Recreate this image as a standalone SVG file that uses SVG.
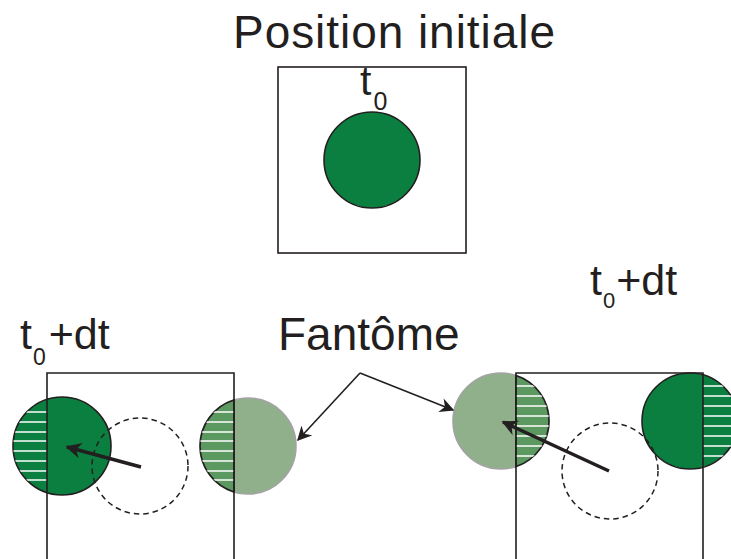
<svg xmlns="http://www.w3.org/2000/svg" width="731" height="559" viewBox="0 0 731 559">
<style>
  .lbl { font-family: "Liberation Sans", Arial, sans-serif; fill: #231f20; }
  .box { fill: none; stroke: #231f20; stroke-width: 1.6; }
  .solid { fill: #0b7f3f; stroke: #231f20; stroke-width: 1.6; }
  .ghost { fill: #8fb08a; stroke: #a3a3a3; stroke-width: 1.6; }
  .ghosthatch { fill: #5b9960; stroke: #231f20; stroke-width: 1.6; }
  .hatch { stroke: #ffffff; stroke-width: 1.6; }
  .dashed { fill: none; stroke: #231f20; stroke-width: 1.5; stroke-dasharray: 5.5 4; }
  .move { stroke: #231f20; stroke-width: 3.5; fill: none; }
  .ptr { stroke: #231f20; stroke-width: 1.6; fill: none; }
</style>
<defs>
  <marker id="bigArrow" viewBox="0 0 10 10" refX="9" refY="5" markerWidth="5" markerHeight="4.5" orient="auto" markerUnits="strokeWidth">
    <path d="M0,0 L10,5 L0,10 L3,5 Z" fill="#231f20"/>
  </marker>
  <marker id="smallArrow" viewBox="0 0 10 10" refX="9" refY="5" markerWidth="10" markerHeight="9" orient="auto" markerUnits="strokeWidth">
    <path d="M0,0 L10,5 L0,10 L3,5 Z" fill="#231f20"/>
  </marker>
  <clipPath id="clipA"><path d="M47,399.4 A49,49 0 0,0 47,492.6 Z"/></clipPath>
  <clipPath id="clipB"><path d="M234,400.1 A48,48 0 0,0 234,491.9 Z"/></clipPath>
  <clipPath id="clipC"><path d="M516,375.4 A48,48 0 0,1 516,466.6 Z"/></clipPath>
  <clipPath id="clipD"><path d="M703,374.8 A48,48 0 0,1 703,467.2 Z"/></clipPath>
</defs>

<g id="title">
  <text class="lbl" x="233" y="48" font-size="46" textLength="322" lengthAdjust="spacing">Position initiale</text>
</g>

<g id="initial">
  <rect class="box" x="278" y="67" width="188" height="186"/>
  <text class="lbl" x="360" y="95" font-size="41">t<tspan font-size="25" dy="15" dx="2">0</tspan></text>
  <circle class="solid" cx="372" cy="160" r="48"/>
</g>

<g id="left-label">
  <text class="lbl" x="20" y="349" font-size="43">t<tspan font-size="23" dy="16" dx="1">0</tspan><tspan dy="-16" dx="3">+dt</tspan></text>
</g>

<g id="right-label">
  <text class="lbl" x="590" y="295" font-size="43">t<tspan font-size="22" dy="13" dx="1">0</tspan><tspan dy="-13" dx="1">+dt</tspan></text>
</g>

<g id="fantome-label">
  <text class="lbl" x="278" y="350" font-size="46">Fantôme</text>
</g>

<g id="left-particle">
  <circle class="solid" cx="62" cy="446" r="49"/>
  <g clip-path="url(#clipA)" class="hatch">
    <line x1="0" y1="412" x2="47" y2="412"/>
    <line x1="0" y1="422" x2="47" y2="422"/>
    <line x1="0" y1="432" x2="47" y2="432"/>
    <line x1="0" y1="441" x2="47" y2="441"/>
    <line x1="0" y1="451" x2="47" y2="451"/>
    <line x1="0" y1="461" x2="47" y2="461"/>
    <line x1="0" y1="471" x2="47" y2="471"/>
    <line x1="0" y1="480" x2="47" y2="480"/>
  </g>
</g>

<g id="left-ghost">
  <circle class="ghost" cx="248" cy="446" r="48"/>
  <path class="ghosthatch" d="M234,400.1 A48,48 0 0,0 234,491.9 Z"/>
  <g clip-path="url(#clipB)" class="hatch">
    <line x1="195" y1="412" x2="234" y2="412"/>
    <line x1="195" y1="422" x2="234" y2="422"/>
    <line x1="195" y1="432" x2="234" y2="432"/>
    <line x1="195" y1="441" x2="234" y2="441"/>
    <line x1="195" y1="451" x2="234" y2="451"/>
    <line x1="195" y1="461" x2="234" y2="461"/>
    <line x1="195" y1="471" x2="234" y2="471"/>
    <line x1="195" y1="480" x2="234" y2="480"/>
  </g>
</g>

<g id="left-box">
  <path class="box" d="M47,560 V373 H234 V560"/>
</g>

<g id="left-previous">
  <circle class="dashed" cx="140" cy="466" r="48"/>
</g>

<g id="right-ghost">
  <circle class="ghost" cx="501" cy="421" r="48"/>
  <path class="ghosthatch" d="M516,375.4 A48,48 0 0,1 516,466.6 Z"/>
  <g clip-path="url(#clipC)" class="hatch">
    <line x1="516" y1="386" x2="555" y2="386"/>
    <line x1="516" y1="396" x2="555" y2="396"/>
    <line x1="516" y1="406" x2="555" y2="406"/>
    <line x1="516" y1="416" x2="555" y2="416"/>
    <line x1="516" y1="426" x2="555" y2="426"/>
    <line x1="516" y1="436" x2="555" y2="436"/>
    <line x1="516" y1="446" x2="555" y2="446"/>
    <line x1="516" y1="456" x2="555" y2="456"/>
  </g>
</g>

<g id="right-particle">
  <circle class="solid" cx="690" cy="421" r="48"/>
  <g clip-path="url(#clipD)" class="hatch">
    <line x1="703" y1="386" x2="740" y2="386"/>
    <line x1="703" y1="396" x2="740" y2="396"/>
    <line x1="703" y1="406" x2="740" y2="406"/>
    <line x1="703" y1="416" x2="740" y2="416"/>
    <line x1="703" y1="426" x2="740" y2="426"/>
    <line x1="703" y1="436" x2="740" y2="436"/>
    <line x1="703" y1="446" x2="740" y2="446"/>
    <line x1="703" y1="456" x2="740" y2="456"/>
  </g>
</g>

<g id="right-box">
  <path class="box" d="M516,560 V373 H703 V560"/>
</g>

<g id="right-previous">
  <circle class="dashed" cx="610" cy="471" r="48"/>
</g>

<g id="connectors">
  <line class="move" x1="141" y1="467" x2="67" y2="447" marker-end="url(#bigArrow)"/>
  <line class="move" x1="609" y1="471" x2="503" y2="422" marker-end="url(#bigArrow)"/>
  <line class="ptr" x1="360" y1="373" x2="298" y2="440" marker-end="url(#smallArrow)"/>
  <line class="ptr" x1="360" y1="373" x2="453" y2="410" marker-end="url(#smallArrow)"/>
</g>
</svg>
